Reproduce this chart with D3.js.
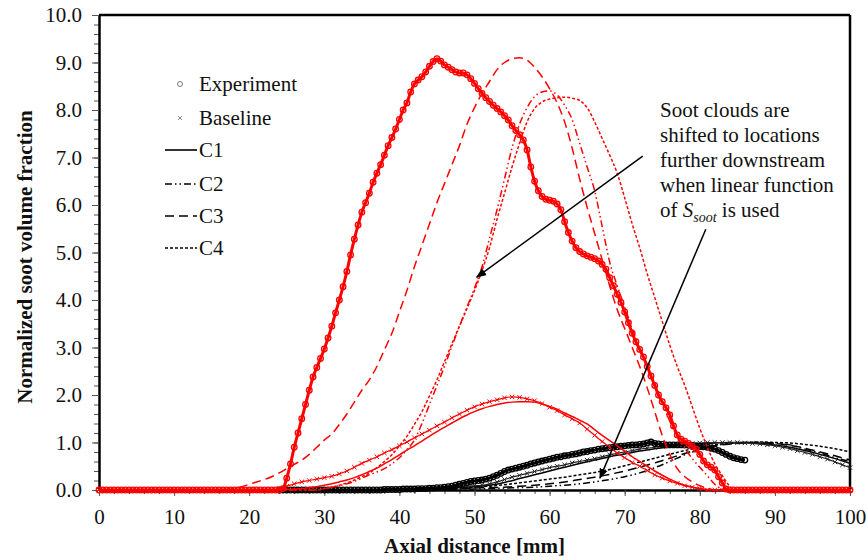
<!DOCTYPE html>
<html>
<head>
<meta charset="utf-8">
<script src="https://cdn.jsdelivr.net/npm/d3@7"></script>
<style>
body { margin: 0; background: #fff; }
svg text { font-family: "Liberation Serif", "Times New Roman", serif; fill: #111; }
</style>
</head>
<body>
<svg id="chart" width="867" height="560"></svg>
<script>
'use strict';

const xTicks = [0, 10, 20, 30, 40, 50, 60, 70, 80, 90, 100];
const yTicks = [0, 1, 2, 3, 4, 5, 6, 7, 8, 9, 10];
const legendLabels = ['Experiment', 'Baseline', 'C1', 'C2', 'C3', 'C4'];

// experiment: x = 0, 0.5, ... 100
const expRed = [
	0, 0, 0, 0, 0, 0, 0, 0, 0, 0,
	0, 0, 0, 0, 0, 0, 0, 0, 0, 0,
	0, 0, 0, 0, 0, 0, 0, 0, 0, 0,
	0, 0, 0, 0, 0, 0, 0, 0, 0, 0,
	0, 0, 0, 0, 0, 0, 0, 0, 0,
	0.03, 0.25, 0.55, 0.9, 1.2, 1.5, 1.8, 2.1, 2.38, 2.58,
	2.77, 2.97, 3.2, 3.45, 3.73, 4.0, 4.28, 4.6, 4.95, 5.28,
	5.58, 5.85, 6.05, 6.25, 6.48, 6.67, 6.85, 7.05, 7.25, 7.42,
	7.6, 7.8, 8.0, 8.15, 8.38, 8.55, 8.63, 8.7, 8.8, 8.92,
	9.02, 9.08, 9.03, 8.95, 8.9, 8.85, 8.8, 8.78, 8.78, 8.74,
	8.66, 8.56, 8.45, 8.35, 8.26, 8.18, 8.1, 8.03, 7.96, 7.88,
	7.79, 7.67, 7.57, 7.48, 7.37, 7.16, 6.8, 6.5, 6.3, 6.18,
	6.12, 6.1, 6.08, 6.02, 5.9, 5.65, 5.42, 5.24, 5.1, 5.02,
	4.97, 4.93, 4.9, 4.87, 4.82, 4.75, 4.65, 4.47, 4.3, 4.12,
	3.95, 3.75, 3.52, 3.3, 3.12, 2.96, 2.8, 2.6, 2.4, 2.2,
	2.0, 1.86, 1.73, 1.58, 1.35, 1.16, 1.07, 1.03, 0.98, 0.92,
	0.86, 0.75, 0.61, 0.53, 0.48, 0.42, 0.28, 0.15, 0.02,
	0, 0, 0, 0, 0, 0, 0, 0, 0, 0,
	0, 0, 0, 0, 0, 0, 0, 0, 0, 0,
	0, 0, 0, 0, 0, 0, 0, 0, 0, 0,
	0, 0, 0
];

// experiment: x = 24, 24.5, ... 86
const expBlack = [
	0, 0, 0, 0, 0, 0, 0, 0, 0, 0,
	0, 0, 0, 0, 0, 0, 0, 0, 0, 0,
	0, 0, 0, 0, 0, 0, 0, 0, 0.01, 0.01,
	0.01, 0.01,
	0.01, 0.02, 0.02, 0.02, 0.02, 0.03, 0.03, 0.03, 0.04, 0.04,
	0.05, 0.05, 0.06, 0.07, 0.08, 0.1, 0.12, 0.14, 0.16, 0.18,
	0.19, 0.2, 0.21, 0.23, 0.25, 0.28, 0.31, 0.35, 0.39, 0.42,
	0.44, 0.46, 0.48, 0.5, 0.52, 0.55, 0.57, 0.59, 0.61, 0.63,
	0.65, 0.67, 0.69, 0.7, 0.72, 0.73, 0.75, 0.76, 0.78, 0.8,
	0.81, 0.83, 0.84, 0.86, 0.87, 0.88, 0.89, 0.9, 0.91, 0.92,
	0.93, 0.94, 0.95, 0.95, 0.96, 0.97, 0.99, 1.01, 0.98, 0.97,
	0.96, 0.95, 0.95, 0.95, 0.95, 0.95, 0.95, 0.94, 0.94, 0.93,
	0.92, 0.91, 0.9, 0.88, 0.86, 0.83, 0.79, 0.75, 0.71, 0.68,
	0.66, 0.64, 0.63
];

// red model results: x = 0, 1, ... 100
const baseRed = [
	0, 0, 0, 0, 0, 0, 0, 0, 0, 0, 0, 0, 0, 0, 0, 0, 0, 0, 0, 0, 0, 0, 0, 0,
	0.03, 0.08, 0.13, 0.17, 0.2, 0.23, 0.26, 0.29, 0.34, 0.4,
	0.48, 0.56, 0.63, 0.7, 0.78, 0.85, 0.93, 1.01, 1.1, 1.18,
	1.26, 1.35, 1.43, 1.52, 1.6, 1.68, 1.75, 1.81, 1.86, 1.9,
	1.94, 1.96, 1.95, 1.92, 1.88, 1.82, 1.74, 1.67, 1.58, 1.5,
	1.41, 1.28, 1.15, 1.02, 0.9, 0.78, 0.68, 0.58, 0.5, 0.41,
	0.32, 0.25, 0.19, 0.14, 0.09, 0.06, 0.03,
	0, 0, 0, 0, 0, 0, 0, 0, 0, 0, 0, 0, 0, 0, 0, 0, 0, 0, 0, 0
];
const c1Red = [
	0, 0, 0, 0, 0, 0, 0, 0, 0, 0, 0, 0, 0, 0, 0, 0, 0, 0, 0, 0, 0, 0, 0, 0, 0,
	0.01, 0.02, 0.03, 0.05, 0.07, 0.1, 0.13, 0.17, 0.21, 0.26,
	0.32, 0.39, 0.46, 0.55, 0.64, 0.74, 0.84, 0.93, 1.03, 1.13,
	1.23, 1.32, 1.41, 1.5, 1.58, 1.65, 1.71, 1.76, 1.8, 1.83,
	1.85, 1.86, 1.86, 1.85, 1.81, 1.76, 1.7, 1.62, 1.55, 1.47,
	1.39, 1.27, 1.15, 1.04, 0.93, 0.82, 0.7, 0.6, 0.5, 0.4,
	0.31, 0.23, 0.16, 0.1, 0.06, 0.03, 0.01,
	0, 0, 0, 0, 0, 0, 0, 0, 0, 0, 0, 0, 0, 0, 0, 0, 0, 0, 0
];
const c2Red = [
	0, 0, 0, 0, 0, 0, 0, 0, 0, 0, 0, 0, 0, 0, 0, 0, 0, 0, 0, 0,
	0, 0, 0, 0, 0, 0, 0, 0, 0, 0,
	0.03, 0.06, 0.09, 0.13, 0.18, 0.25, 0.32, 0.38, 0.45, 0.55,
	0.68, 0.85, 1.05, 1.4, 1.8, 2.2, 2.6, 3.03, 3.45, 3.85,
	4.25, 4.7, 5.3, 5.9, 6.55, 7.2, 7.7, 8.05, 8.28, 8.38,
	8.4, 8.32, 8.1, 7.8, 7.3, 6.8, 6.3, 5.55, 4.8, 4.3,
	3.85, 3.4, 2.95, 2.6, 2.25, 1.85, 1.45, 1.12, 0.88, 0.66,
	0.48, 0.3, 0.12, 0.02,
	0, 0, 0, 0, 0, 0, 0, 0, 0, 0, 0, 0, 0, 0, 0, 0, 0
];
const c3Red = [
	0, 0, 0, 0, 0, 0, 0, 0, 0, 0, 0, 0, 0, 0, 0, 0, 0,
	0.01, 0.03, 0.07, 0.12, 0.17, 0.22, 0.28, 0.36, 0.45, 0.54,
	0.63, 0.75, 0.9, 1.05, 1.18, 1.38, 1.6, 1.85, 2.1, 2.32,
	2.6, 2.95, 3.3, 3.75, 4.2, 4.7, 5.15, 5.6, 6.05, 6.45,
	6.85, 7.25, 7.7, 8.05, 8.35, 8.6, 8.85, 9.0, 9.08, 9.1,
	9.05, 8.9, 8.7, 8.45, 8.15, 7.75, 7.2, 6.55, 5.95, 5.4,
	4.85, 4.3, 3.8, 3.4, 3.0, 2.6, 2.15, 1.65, 1.15, 0.75,
	0.45, 0.28, 0.17, 0.09, 0.04,
	0, 0, 0, 0, 0, 0, 0, 0, 0, 0, 0, 0, 0, 0, 0, 0, 0, 0, 0
];
const c4Red = [
	0, 0, 0, 0, 0, 0, 0, 0, 0, 0, 0, 0, 0, 0, 0, 0, 0, 0, 0, 0,
	0, 0, 0, 0, 0, 0, 0, 0, 0, 0,
	0.03, 0.06, 0.1, 0.15, 0.21, 0.28, 0.36, 0.47, 0.6, 0.74,
	0.93, 1.13, 1.38, 1.65, 1.98, 2.32, 2.7, 3.08, 3.45, 3.82,
	4.2, 4.62, 5.1, 5.7, 6.25, 6.8, 7.3, 7.75, 8.03, 8.17,
	8.23, 8.26, 8.27, 8.25, 8.2, 8.05, 7.75, 7.4, 7.05, 6.67,
	6.15, 5.6, 5.1, 4.55, 4.05, 3.55, 3.05, 2.6, 2.2, 1.75,
	1.3, 0.9, 0.55, 0.3, 0.08,
	0, 0, 0, 0, 0, 0, 0, 0, 0, 0, 0, 0, 0, 0, 0, 0
];

// black baseline: x = 24, 25, ... 100
const baseBlack = [
	0, 0, 0, 0, 0, 0, 0, 0, 0, 0, 0, 0, 0, 0, 0, 0, 0,
	0.01, 0.01, 0.02, 0.03, 0.04, 0.05, 0.06, 0.07, 0.08, 0.09,
	0.1, 0.13, 0.17, 0.22, 0.27, 0.31, 0.35, 0.39, 0.43, 0.47,
	0.5, 0.53, 0.57, 0.6, 0.63, 0.66, 0.7, 0.74, 0.77, 0.8,
	0.83, 0.86, 0.88, 0.9, 0.92, 0.94, 0.96, 0.97, 0.98, 0.99,
	1.0, 1.0, 1.0, 1.0, 1.0, 0.99, 0.98, 0.97, 0.95, 0.93,
	0.9, 0.87, 0.83, 0.79, 0.75, 0.7, 0.65, 0.59, 0.53, 0.47
];

// black model results: x = 24, 26, ... 100
const c1Black = [
	0, 0, 0, 0, 0, 0, 0, 0, 0,
	0.01, 0.02, 0.03, 0.05, 0.07, 0.1, 0.16, 0.24, 0.32, 0.4,
	0.48, 0.56, 0.63, 0.7, 0.76, 0.82, 0.87, 0.91, 0.95, 0.97,
	0.99, 1.0, 1.0, 0.98, 0.95, 0.9, 0.83, 0.75, 0.66, 0.56
];
const c2Black = [
	0, 0, 0, 0, 0, 0, 0, 0, 0,
	0, 0.01, 0.01, 0.02, 0.02, 0.03, 0.04, 0.05, 0.06, 0.08,
	0.1, 0.13, 0.17, 0.22, 0.28, 0.36, 0.47, 0.6, 0.74, 0.85,
	0.93, 0.98, 1.0, 1.0, 0.98, 0.95, 0.86, 0.78, 0.68, 0.6
];
const c3Black = [
	0, 0, 0, 0, 0, 0, 0, 0, 0,
	0.01, 0.01, 0.02, 0.03, 0.04, 0.05, 0.06, 0.08, 0.1, 0.13,
	0.17, 0.22, 0.27, 0.33, 0.4, 0.48, 0.57, 0.67, 0.77, 0.86,
	0.93, 0.97, 0.99, 1.0, 0.98, 0.94, 0.88, 0.8, 0.72, 0.63
];
const c4Black = [
	0, 0, 0, 0, 0, 0, 0, 0, 0,
	0.01, 0.02, 0.03, 0.04, 0.06, 0.08, 0.11, 0.15, 0.19, 0.23,
	0.27, 0.32, 0.37, 0.43, 0.51, 0.59, 0.67, 0.75, 0.83, 0.9,
	0.95, 0.98, 1.0, 1.01, 1.0, 0.99, 0.96, 0.92, 0.87, 0.8
];

const dashes = { C1: null, C2: '7,3,1.5,3,1.5,3', C3: '9,5', C4: '3,2' };

function toPoints(values, x0, step) {
	return values.map(function(v, i) { return [x0 + i * step, v]; });
}

const svg = d3.select('#chart');
svg.append('rect').attr('width', 867).attr('height', 560).attr('fill', '#fff');

const x = d3.scaleLinear().domain([0, 100]).range([99, 850]);
const y = d3.scaleLinear().domain([0, 10]).range([490, 15]);

const line = d3.line()
	.x(function(d) { return x(d[0]); })
	.y(function(d) { return y(d[1]); })
	.curve(d3.curveMonotoneX);

// minor ticks
svg.append('g')
	.attr('transform', 'translate(99,0)')
	.call(d3.axisLeft(y).tickValues(d3.range(0, 10.01, 0.2)).tickFormat('').tickSize(5).tickSizeOuter(0))
	.call(g => g.select('.domain').remove())
	.selectAll('line').attr('stroke', '#555');
svg.append('g')
	.attr('transform', 'translate(0,490)')
	.call(d3.axisBottom(x).tickValues(d3.range(0, 100.1, 2)).tickFormat('').tickSize(4).tickSizeOuter(0))
	.call(g => g.select('.domain').remove())
	.selectAll('line').attr('stroke', '#555');

// major ticks + labels
const yAxisG = svg.append('g')
	.attr('transform', 'translate(99,0)')
	.call(d3.axisLeft(y).tickValues(yTicks).tickFormat(d3.format('.1f')).tickSize(7).tickSizeOuter(0).tickPadding(10));
const xAxisG = svg.append('g')
	.attr('transform', 'translate(0,490)')
	.call(d3.axisBottom(x).tickValues(xTicks).tickFormat(d3.format('d')).tickSize(6).tickSizeOuter(0).tickPadding(13));
[yAxisG, xAxisG].forEach(function(g) {
	g.attr('font-family', '"Liberation Serif", serif');
	g.selectAll('.tick line').attr('stroke', '#555');
	g.selectAll('.tick text').attr('font-size', 21).attr('fill', '#111')
		.style('font-family', '"Liberation Serif", serif');
	g.select('.domain').attr('stroke', '#000').attr('stroke-width', 2.5);
});

// top and right border
svg.append('line').attr('x1', x(0)).attr('x2', x(100)).attr('y1', y(10)).attr('y2', y(10))
	.attr('stroke', '#000').attr('stroke-width', 2.5);
svg.append('line').attr('x1', x(100)).attr('x2', x(100)).attr('y1', y(10)).attr('y2', y(0))
	.attr('stroke', '#000').attr('stroke-width', 2.5);

// axis titles
svg.append('text')
	.attr('x', (x(0) + x(100)) / 2).attr('y', 553)
	.attr('text-anchor', 'middle').attr('font-size', 21).attr('font-weight', 'bold')
	.text('Axial distance [mm]');
svg.append('text')
	.attr('transform', 'translate(32,257) rotate(-90)')
	.attr('text-anchor', 'middle').attr('font-size', 21).attr('font-weight', 'bold')
	.text('Normalized soot volume fraction');

const xMark = 'M-2.2,-2.2L2.2,2.2M-2.2,2.2L2.2,-2.2';

function drawModel(values, x0, step, color, name) {
	svg.append('path')
		.datum(toPoints(values, x0, step))
		.attr('d', line)
		.attr('fill', 'none')
		.attr('stroke', color)
		.attr('stroke-width', 1.5)
		.attr('stroke-dasharray', dashes[name]);
}

function drawBaseline(values, x0, step, color) {
	const pts = toPoints(values, x0, step);
	svg.append('path').datum(pts).attr('d', line)
		.attr('fill', 'none').attr('stroke', color).attr('stroke-width', 1.2);
	svg.append('g').selectAll('path')
		.data(pts)
		.enter()
		.append('path')
		.attr('transform', function(d) { return 'translate(' + x(d[0]) + ',' + y(d[1]) + ')'; })
		.attr('d', xMark)
		.attr('stroke', color)
		.attr('stroke-width', 1)
		.attr('fill', 'none');
}

function drawExperiment(values, x0, step, color) {
	const pts = toPoints(values, x0, step);
	svg.append('path').datum(pts).attr('d', line)
		.attr('fill', 'none').attr('stroke', color).attr('stroke-width', 3);
	svg.append('g').selectAll('circle')
		.data(pts)
		.enter()
		.append('circle')
		.attr('cx', function(d) { return x(d[0]); })
		.attr('cy', function(d) { return y(d[1]); })
		.attr('r', 2.8)
		.attr('fill', 'none')
		.attr('stroke', color)
		.attr('stroke-width', 1.3);
}

// black case
drawModel(c1Black, 24, 2, '#000', 'C1');
drawModel(c2Black, 24, 2, '#000', 'C2');
drawModel(c3Black, 24, 2, '#000', 'C3');
drawModel(c4Black, 24, 2, '#000', 'C4');
drawBaseline(baseBlack, 24, 1, '#222');
drawExperiment(expBlack, 24, 0.5, '#000');

// red case
drawModel(c1Red, 0, 1, '#f00', 'C1');
drawModel(c2Red, 0, 1, '#f00', 'C2');
drawModel(c3Red, 0, 1, '#f00', 'C3');
drawModel(c4Red, 0, 1, '#f00', 'C4');
drawBaseline(baseRed, 0, 1, '#f00');
drawExperiment(expRed, 0, 0.5, '#f00');

// legend
const legendY = [84, 118, 150, 184, 216, 248];
const legend = svg.append('g');
legendLabels.forEach(function(label, i) {
	const ly = legendY[i];
	if (i === 0) {
		legend.append('circle').attr('cx', 180).attr('cy', ly).attr('r', 2.5)
			.attr('fill', 'none').attr('stroke', '#777').attr('stroke-width', 1);
	} else if (i === 1) {
		legend.append('path').attr('transform', 'translate(180,' + ly + ')')
			.attr('d', 'M-2,-2L2,2M-2,2L2,-2').attr('stroke', '#777').attr('stroke-width', 0.9);
	} else {
		legend.append('line').attr('x1', 165).attr('x2', 197).attr('y1', ly).attr('y2', ly)
			.attr('stroke', '#000').attr('stroke-width', 1.6)
			.attr('stroke-dasharray', dashes[label]);
	}
	legend.append('text')
		.attr('x', 199).attr('y', ly + 7)
		.attr('font-size', 21)
		.text(label);
});

// annotation
svg.append('defs').append('marker')
	.attr('id', 'arrow')
	.attr('viewBox', '0 0 10 10')
	.attr('refX', 9).attr('refY', 5)
	.attr('markerWidth', 7).attr('markerHeight', 7)
	.attr('orient', 'auto')
	.append('path').attr('d', 'M0,1L10,5L0,9Z').attr('fill', '#000');

svg.append('line')
	.attr('x1', x(72.4)).attr('y1', y(7.03))
	.attr('x2', x(50.3)).attr('y2', y(4.48))
	.attr('stroke', '#000').attr('stroke-width', 1.5)
	.attr('marker-end', 'url(#arrow)');
svg.append('line')
	.attr('x1', x(80.8)).attr('y1', y(5.49))
	.attr('x2', x(66.7)).attr('y2', y(0.25))
	.attr('stroke', '#000').attr('stroke-width', 1.5)
	.attr('marker-end', 'url(#arrow)');

const noteLines = ['Soot clouds are', 'shifted to locations', 'further downstream', 'when linear function'];
const note = svg.append('text').attr('font-size', 21);
noteLines.forEach(function(t, i) {
	note.append('tspan').attr('x', x(74.7)).attr('y', 117 + i * 25).text(t);
});
const last = svg.append('text').attr('x', x(74.7)).attr('y', 217).attr('font-size', 21);
last.append('tspan').text('of ');
last.append('tspan').attr('font-style', 'italic').text('S');
last.append('tspan').attr('font-style', 'italic').attr('font-size', 14).attr('dy', 5).text('soot');
last.append('tspan').attr('dy', -5).text(' is used');
</script>
</body>
</html>
